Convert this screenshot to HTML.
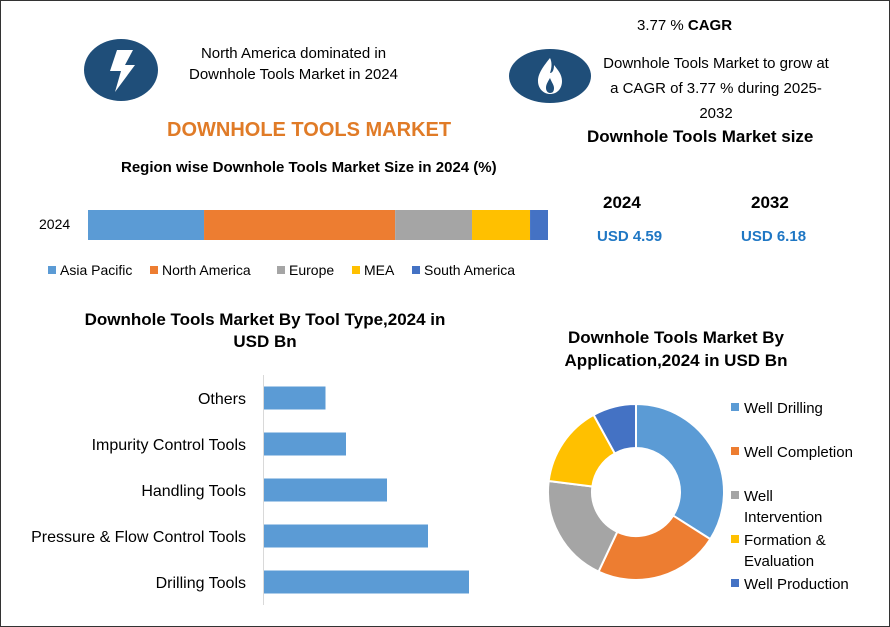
<!DOCTYPE html>
<html><head><meta charset="utf-8"><style>
body{margin:0;background:#fff;font-family:"Liberation Sans",sans-serif;}
#wrap{position:relative;width:888px;height:625px;border:1px solid #333;overflow:hidden;background:#fff}
.t{position:absolute;color:#000;white-space:nowrap}
</style></head><body>
<div id="wrap">
<svg width="890" height="627" style="position:absolute;left:0;top:0">
<ellipse cx="120" cy="69" rx="37" ry="31" fill="#1f4e79"/>
<polygon points="116,49 132,49 124,64 134,64 114,91 120,70 109,70" fill="#fff"/>
<ellipse cx="549" cy="75" rx="41" ry="27" fill="#1f4e79"/>
<path d="M549,57 C540,68 537,74 537,80 C537,88 543,93 549,93 C556,93 561,88 561,80 C561,73 556,68 553,64 C553,70 551,72 549,72 C551,66 551,61 549,57 Z" fill="#fff"/>
<path d="M549,77 C546,82 545,84 545,87 C545,90 547,92 549,92 C552,92 553,90 553,87 C553,84 551,82 549,77Z" fill="#1f4e79"/>
<g id="stack"></g><g id="bars"></g><g id="donut"></g>
</svg>
<div class="t" style="left:180px;top:42px;font-size:15px;text-align:center;width:225px;line-height:21px">North America dominated in<br>Downhole Tools Market in 2024</div>
<div class="t" style="left:636px;top:16px;font-size:15px">3.77 % <b>CAGR</b></div>
<div class="t" style="left:590px;top:50px;font-size:15px;text-align:center;width:250px;line-height:25px">Downhole Tools Market to grow at<br>a CAGR of 3.77 % during 2025-<br>2032</div>
<div class="t" style="left:166px;top:118px;font-size:20px;font-weight:bold;color:#e07b27">DOWNHOLE TOOLS MARKET</div>
<div class="t" style="left:120px;top:158px;font-size:15px;font-weight:bold">Region wise Downhole Tools Market Size in 2024 (%)</div>
<div class="t" style="left:38px;top:215px;font-size:14px">2024</div>
<div class="t" style="left:586px;top:126px;font-size:17px;font-weight:bold">Downhole Tools Market size</div>
<div class="t" style="left:602px;top:192px;font-size:17px;font-weight:bold">2024</div>
<div class="t" style="left:750px;top:192px;font-size:17px;font-weight:bold">2032</div>
<div class="t" style="left:596px;top:227px;font-size:15px;font-weight:bold;color:#1f77c4">USD 4.59</div>
<div class="t" style="left:740px;top:227px;font-size:15px;font-weight:bold;color:#1f77c4">USD 6.18</div>
<div class="t" style="left:60px;top:308px;font-size:17px;font-weight:bold;text-align:center;width:408px;line-height:22px">Downhole Tools Market By Tool Type,2024 in<br>USD Bn</div>
<div class="t" style="left:540px;top:325px;font-size:17px;font-weight:bold;text-align:center;width:270px;line-height:23px">Downhole Tools Market By<br>Application,2024 in USD Bn</div>
</div>
<script>
const NS="http://www.w3.org/2000/svg";
function mk(tag,attrs,parent){const e=document.createElementNS(NS,tag);for(const k in attrs)e.setAttribute(k,attrs[k]);parent.appendChild(e);return e;}
// stacked bar data
const regions=["Asia Pacific","North America","Europe","MEA","South America"];
const regionShares=[25.2,41.5,16.7,12.6,3.9];
const regionColors=["#5b9bd5","#ed7d31","#a5a5a5","#ffc000","#4472c4"];
// tool type data
const tools=["Others","Impurity Control Tools","Handling Tools","Pressure & Flow Control Tools","Drilling Tools"];
const toolValues=[0.6,0.8,1.2,1.6,2.0];
// application donut data
const apps=["Well Drilling","Well Completion","Well Intervention","Formation & Evaluation","Well Production"];
const appValues=[34,23,20,15,8];
const appLegend=[["Well Drilling"],["Well Completion"],["Well","Intervention"],["Formation &","Evaluation"],["Well Production"]];

const stack=document.getElementById('stack');
const total=regionShares.reduce((a,b)=>a+b,0);
const sx=v=>v/total*460;
let acc=0;
regionShares.forEach((v,i)=>{
 const r=mk('rect',{x:87+sx(acc),y:209,width:sx(v),height:30,fill:regionColors[i]},stack);
 
 
 acc+=v;
});
const legX=[47,149,276,351,411];
regions.forEach((n,i)=>{
 const g=mk('g',{},stack);
 
 
 mk('rect',{x:legX[i],y:265,width:8,height:8,fill:regionColors[i]},g);
 const t=mk('text',{x:legX[i]+12,y:274,'font-size':14,'font-family':'Liberation Sans'},g);t.textContent=n;
});

const bars=document.getElementById('bars');
const bx=v=>v*102.5;
const byc=i=>397+i*46;
mk('line',{x1:262.5,y1:374,x2:262.5,y2:604,stroke:'#d9d9d9'},bars);
tools.forEach((n,i)=>{
 const r=mk('rect',{x:263,y:byc(i)-11.5,width:bx(toolValues[i]),height:23,fill:'#5b9bd5'},bars);
 
 
 const t=mk('text',{x:245,y:byc(i)+6,'font-size':16,'text-anchor':'end','font-family':'Liberation Sans'},bars);
 
 
 t.textContent=n;
});

const donut=document.getElementById('donut');
const cx=635,cy=491,R=88,r0=44;
const dsum=appValues.reduce((a,b)=>a+b,0);
let a0=0;
const pt=(ang,rad)=>[cx+rad*Math.sin(ang),cy-rad*Math.cos(ang)];
appValues.forEach((v,i)=>{
 const a1=a0+v/dsum*2*Math.PI;const lg=(a1-a0)>Math.PI?1:0;
 const p1=pt(a0,R),p2=pt(a1,R),p3=pt(a1,r0),p4=pt(a0,r0);
 const p=mk('path',{d:`M${p1} A${R},${R} 0 ${lg} 1 ${p2} L${p3} A${r0},${r0} 0 ${lg} 0 ${p4}Z`,fill:regionColors[i],stroke:'#fff','stroke-width':2},donut);
 
 
 a0=a1;
});
const ly=[407,451,495,539,583];
appLegend.forEach((lines,i)=>{
 const g=mk('g',{},donut);
 
 
 mk('rect',{x:730,y:ly[i]-5,width:8,height:8,fill:regionColors[i]},g);
 lines.forEach((l,j)=>{const t=mk('text',{x:743,y:ly[i]+5+j*21,'font-size':15,'font-family':'Liberation Sans'},g);t.textContent=l;});
});
</script>
</body></html>
